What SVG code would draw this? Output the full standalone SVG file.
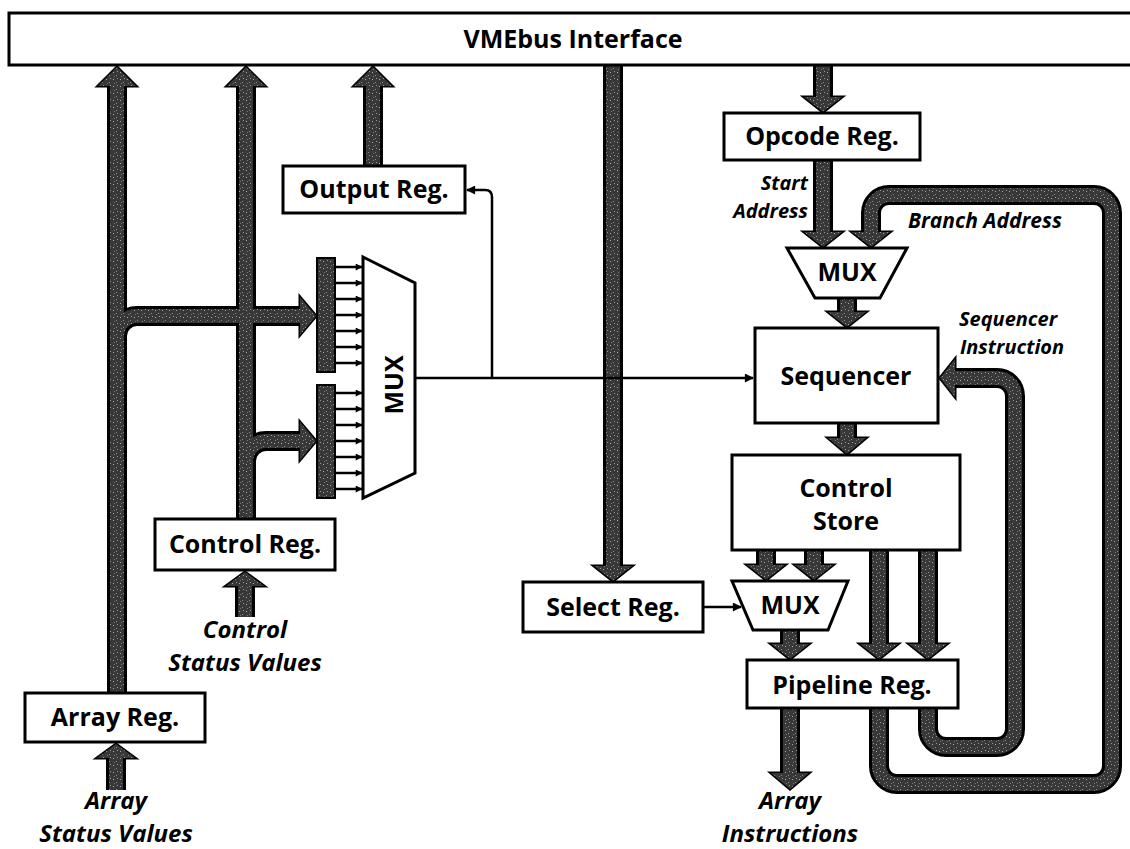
<svg xmlns="http://www.w3.org/2000/svg" width="1130" height="849" viewBox="0 0 1130 849">
<defs>
<pattern id="stip" width="7" height="7" patternUnits="userSpaceOnUse">
<rect width="7" height="7" fill="#383838"/>
<rect x="1" y="2" width="1" height="1" fill="#aaa"/>
<rect x="4" y="5" width="1" height="1" fill="#8a8a8a"/>
<rect x="5" y="1" width="1" height="1" fill="#999"/>
<rect x="2" y="6" width="1" height="1" fill="#777"/>
</pattern>
<marker id="ah" viewBox="0 0 10 10" refX="9" refY="5" markerWidth="10" markerHeight="9" markerUnits="userSpaceOnUse" orient="auto">
<path d="M0,0 L10,5 L0,10 z" fill="#000"/>
</marker>
<marker id="sa" viewBox="0 0 10 10" refX="9" refY="5" markerWidth="8" markerHeight="7" markerUnits="userSpaceOnUse" orient="auto">
<path d="M0,0 L10,5 L0,10 z" fill="#000"/>
</marker>
</defs>
<style>
.box{fill:#fff;stroke:#000;stroke-width:3}
.lbl{font-family:'Open Sans','Liberation Sans',sans-serif;font-weight:700;font-size:25px;fill:#000}
.it{font-family:'Open Sans','Liberation Sans',sans-serif;font-weight:700;font-style:italic;fill:#000}
.busK{fill:none;stroke:#000;stroke-width:20}
.busG{fill:none;stroke:url(#stip);stroke-width:14}
.hK{fill:#000;stroke:#000;stroke-width:3;stroke-linejoin:miter}
.hG{fill:url(#stip)}
.thin{fill:none;stroke:#000;stroke-width:2.5}
.bank{fill:url(#stip);stroke:#000;stroke-width:2}
</style>
<rect width="1130" height="849" fill="#fff"/>

<g id="connectors">
<g id="bus-outline">
<path class="busK" d="M117,693 V84"/>
<path class="busK" d="M116,790 V756"/>
<path class="busK" d="M117,360 V336 A20,20 0 0 1 137,316 H302"/>
<path class="busK" d="M246,519 V84"/>
<path class="busK" d="M245,617 V584"/>
<path class="busK" d="M246,480 V461 A20,20 0 0 1 266,441 H302"/>
<path class="busK" d="M373,166 V84"/>
<path class="busK" d="M613,64 V568"/>
<path class="busK" d="M823,64 V99"/>
<path class="busK" d="M823,160 V234"/>
<path class="busK" d="M879,708 V766 A18,18 0 0 0 897,784 H1094 A18,18 0 0 0 1112,766 V213 A18,18 0 0 0 1094,195 H889 A18,18 0 0 0 871,213 V234"/>
<path class="busK" d="M928,708 V729 A18,18 0 0 0 946,747 H997 A18,18 0 0 0 1015,729 V396 A18,18 0 0 0 997,378 H953"/>
<path class="busK" d="M847,298 V314"/>
<path class="busK" d="M847,423 V440"/>
<path class="busK" d="M766,550 V567"/>
<path class="busK" d="M814,550 V567"/>
<path class="busK" d="M879,550 V646"/>
<path class="busK" d="M928,550 V646"/>
<path class="busK" d="M790,630 V646"/>
<path class="busK" d="M790,708 V775"/>
<polygon class="hK" points="98,86 136,86 117,67"/>
<polygon class="hK" points="227,86 265,86 246,67"/>
<polygon class="hK" points="354,86 392,86 373,67"/>
<polygon class="hK" points="594,566 632,566 613,581"/>
<polygon class="hK" points="804,97 842,97 823,112"/>
<polygon class="hK" points="804,232 842,232 823,247"/>
<polygon class="hK" points="852,232 890,232 871,247"/>
<polygon class="hK" points="828,312 866,312 847,327"/>
<polygon class="hK" points="828,438 866,438 847,454"/>
<polygon class="hK" points="747,565 785,565 766,580"/>
<polygon class="hK" points="795,565 833,565 814,580"/>
<polygon class="hK" points="860,644 898,644 879,659"/>
<polygon class="hK" points="909,644 947,644 928,659"/>
<polygon class="hK" points="771,644 809,644 790,659"/>
<polygon class="hK" points="771,773 809,773 790,789"/>
<polygon class="hK" points="300,297 300,335 316,316"/>
<polygon class="hK" points="300,422 300,460 316,441"/>
<polygon class="hK" points="955,359 955,397 940,378"/>
<polygon class="hK" points="226,586 264,586 245,572"/>
<polygon class="hK" points="97,758 135,758 116,744"/>
</g>
<g id="bus-fill">
<path class="busG" d="M117,693 V84"/>
<path class="busG" d="M116,790 V756"/>
<path class="busG" d="M117,360 V336 A20,20 0 0 1 137,316 H302"/>
<path class="busG" d="M246,519 V84"/>
<path class="busG" d="M245,617 V584"/>
<path class="busG" d="M246,480 V461 A20,20 0 0 1 266,441 H302"/>
<path class="busG" d="M373,166 V84"/>
<path class="busG" d="M613,64 V568"/>
<path class="busG" d="M823,64 V99"/>
<path class="busG" d="M823,160 V234"/>
<path class="busG" d="M879,708 V766 A18,18 0 0 0 897,784 H1094 A18,18 0 0 0 1112,766 V213 A18,18 0 0 0 1094,195 H889 A18,18 0 0 0 871,213 V234"/>
<path class="busG" d="M928,708 V729 A18,18 0 0 0 946,747 H997 A18,18 0 0 0 1015,729 V396 A18,18 0 0 0 997,378 H953"/>
<path class="busG" d="M847,298 V314"/>
<path class="busG" d="M847,423 V440"/>
<path class="busG" d="M766,550 V567"/>
<path class="busG" d="M814,550 V567"/>
<path class="busG" d="M879,550 V646"/>
<path class="busG" d="M928,550 V646"/>
<path class="busG" d="M790,630 V646"/>
<path class="busG" d="M790,708 V775"/>
<polygon class="hG" points="98,86 136,86 117,67"/>
<polygon class="hG" points="227,86 265,86 246,67"/>
<polygon class="hG" points="354,86 392,86 373,67"/>
<polygon class="hG" points="594,566 632,566 613,581"/>
<polygon class="hG" points="804,97 842,97 823,112"/>
<polygon class="hG" points="804,232 842,232 823,247"/>
<polygon class="hG" points="852,232 890,232 871,247"/>
<polygon class="hG" points="828,312 866,312 847,327"/>
<polygon class="hG" points="828,438 866,438 847,454"/>
<polygon class="hG" points="747,565 785,565 766,580"/>
<polygon class="hG" points="795,565 833,565 814,580"/>
<polygon class="hG" points="860,644 898,644 879,659"/>
<polygon class="hG" points="909,644 947,644 928,659"/>
<polygon class="hG" points="771,644 809,644 790,659"/>
<polygon class="hG" points="771,773 809,773 790,789"/>
<polygon class="hG" points="300,297 300,335 316,316"/>
<polygon class="hG" points="300,422 300,460 316,441"/>
<polygon class="hG" points="955,359 955,397 940,378"/>
<polygon class="hG" points="226,586 264,586 245,572"/>
<polygon class="hG" points="97,758 135,758 116,744"/>
</g>
<g id="thin-lines">
<path class="thin" d="M415,378 H753" marker-end="url(#ah)"/>
<path class="thin" d="M492,378 V197 Q492,190 485,190 H467" marker-end="url(#ah)"/>
<path class="thin" d="M703,607 H741" marker-end="url(#ah)"/>
<g marker-end="url(#sa)">
<path class="thin" d="M335,267 H362"/><path class="thin" d="M335,283 H362"/><path class="thin" d="M335,299 H362"/><path class="thin" d="M335,315 H362"/><path class="thin" d="M335,331 H362"/><path class="thin" d="M335,347 H362"/><path class="thin" d="M335,363 H362"/>
<path class="thin" d="M335,393 H362"/><path class="thin" d="M335,409 H362"/><path class="thin" d="M335,425 H362"/><path class="thin" d="M335,441 H362"/><path class="thin" d="M335,457 H362"/><path class="thin" d="M335,473 H362"/><path class="thin" d="M335,489 H362"/>
</g>
</g>
</g>

<g id="vmebus">
<rect class="box" x="9" y="13" width="1140" height="52"/>
<text class="lbl" x="573" y="48" text-anchor="middle">VMEbus Interface</text>
</g>
<g id="output-reg">
<rect class="box" x="283" y="166" width="182" height="47"/>
<text class="lbl" x="374" y="198" text-anchor="middle">Output Reg.</text>
</g>
<g id="opcode-reg">
<rect class="box" x="724" y="113" width="196" height="47"/>
<text class="lbl" x="822" y="145" text-anchor="middle">Opcode Reg.</text>
</g>
<g id="start-address-label">
<text class="it" font-size="20" x="808" y="190" text-anchor="end">Start</text>
<text class="it" font-size="20" x="808" y="218" text-anchor="end">Address</text>
</g>
<g id="branch-address-label">
<text class="it" font-size="21" x="908" y="228">Branch Address</text>
</g>
<g id="mux-top">
<polygon class="box" points="787,248 907,248 880,298 815,298"/>
<text class="lbl" font-size="21" x="847" y="281" text-anchor="middle">MUX</text>
</g>
<g id="seq-instr-label">
<text class="it" font-size="20" x="1008" y="326" text-anchor="middle">Sequencer</text>
<text class="it" font-size="20" x="1012" y="354" text-anchor="middle">Instruction</text>
</g>
<g id="sequencer">
<rect class="box" x="755" y="328" width="183" height="95"/>
<text class="lbl" x="846" y="385" text-anchor="middle">Sequencer</text>
</g>
<g id="control-store">
<rect class="box" x="732" y="455" width="228" height="95"/>
<text class="lbl" x="846" y="497" text-anchor="middle">Control</text>
<text class="lbl" x="846" y="530" text-anchor="middle">Store</text>
</g>
<g id="mux-bottom">
<polygon class="box" points="732,581 848,581 828,630 753,630"/>
<text class="lbl" font-size="22" x="790" y="614" text-anchor="middle">MUX</text>
</g>
<g id="select-reg">
<rect class="box" x="523" y="582" width="180" height="50"/>
<text class="lbl" x="613" y="616" text-anchor="middle">Select Reg.</text>
</g>
<g id="pipeline-reg">
<rect class="box" x="747" y="660" width="211" height="48"/>
<text class="lbl" x="852" y="694" text-anchor="middle">Pipeline Reg.</text>
</g>
<g id="array-instructions-label">
<text class="it" font-size="24" x="790" y="809" text-anchor="middle">Array</text>
<text class="it" font-size="24" x="790" y="842" text-anchor="middle">Instructions</text>
</g>
<g id="mux-left">
<rect class="bank" x="317" y="258" width="18" height="114"/>
<rect class="bank" x="317" y="385" width="18" height="113"/>
<polygon class="box" points="363,257 415,283 415,473 363,498"/>
<text class="lbl" font-size="27" transform="translate(403,385) rotate(-90)" text-anchor="middle">MUX</text>
</g>
<g id="control-reg">
<rect class="box" x="155" y="519" width="180" height="51"/>
<text class="lbl" x="245" y="553" text-anchor="middle">Control Reg.</text>
</g>
<g id="control-status-label">
<text class="it" font-size="24" x="245" y="638" text-anchor="middle">Control</text>
<text class="it" font-size="24" x="245" y="671" text-anchor="middle">Status Values</text>
</g>
<g id="array-reg">
<rect class="box" x="25" y="693" width="180" height="49"/>
<text class="lbl" x="115" y="726" text-anchor="middle">Array Reg.</text>
</g>
<g id="array-status-label">
<text class="it" font-size="24" x="116" y="809" text-anchor="middle">Array</text>
<text class="it" font-size="24" x="116" y="842" text-anchor="middle">Status Values</text>
</g>
</svg>
